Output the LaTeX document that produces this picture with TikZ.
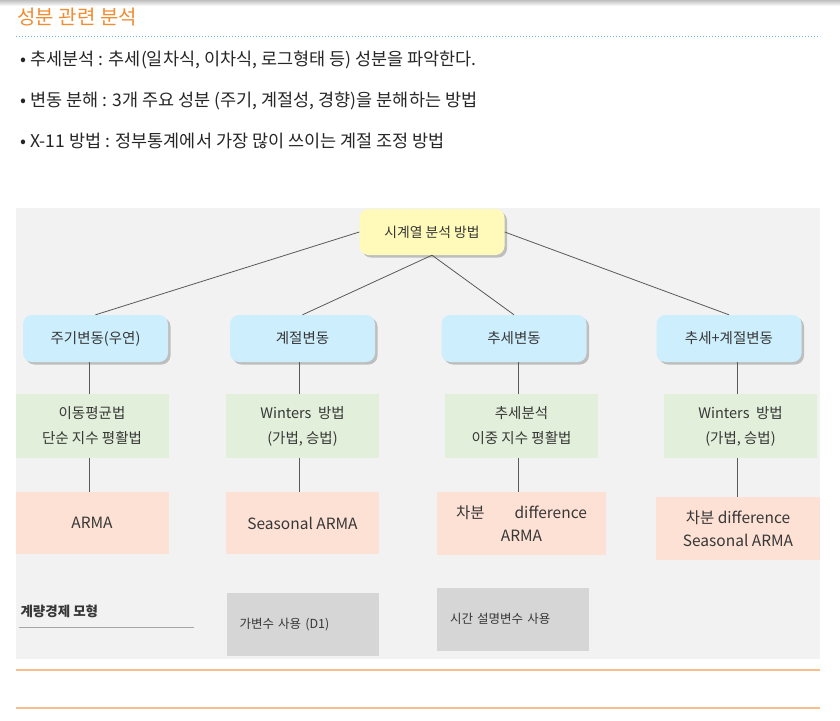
\documentclass[tikz,border=0pt]{standalone}
\usepackage{fontspec}
\setmainfont{Noto Sans CJK KR}
\usetikzlibrary{shadows}

\definecolor{titleorange}{RGB}{240,140,50}
\definecolor{dotblue}{RGB}{110,175,220}
\definecolor{rootyellow}{RGB}{255,250,185}
\definecolor{catblue}{RGB}{205,238,252}
\definecolor{methgreen}{RGB}{226,239,218}
\definecolor{modelpink}{RGB}{253,225,213}
\definecolor{dummygray}{RGB}{214,214,214}
\definecolor{panelgray}{RGB}{242,242,242}
\definecolor{ruleorange}{RGB}{250,190,140}
\definecolor{textgray}{RGB}{55,55,55}

\tikzset{
    roundbox/.style={rounded corners=9pt, text=textgray, align=center,
        drop shadow={shadow xshift=2.5pt, shadow yshift=-2.5pt, opacity=0.45, fill=gray}},
    rootbox/.style={roundbox, fill=rootyellow, minimum width=145pt, minimum height=46pt,
        font=\fontsize{13.8}{16}\selectfont},
    catbox/.style={roundbox, fill=catblue, minimum width=145pt, minimum height=47pt,
        font=\fontsize{14.5}{17}\selectfont},
    methbox/.style={fill=methgreen, text=textgray, align=center, minimum width=153pt,
        minimum height=64pt, font=\fontsize{14.5}{25}\selectfont},
    modelbox/.style={fill=modelpink, text=textgray, align=center, minimum width=153pt,
        minimum height=62pt, font=\fontsize{15.5}{23.5}\selectfont},
    dummybox/.style={fill=dummygray, text=textgray, align=left, inner xsep=13pt,
        text width=126pt, minimum height=63pt, font=\fontsize{12.5}{15}\selectfont},
    link/.style={draw=black!65, line width=0.8pt},
    bullet/.style={anchor=west, text=black!85, font=\fontsize{17.5}{20}\selectfont}
}

\begin{document}
\begin{tikzpicture}[x=1pt, y=-1pt]
    \useasboundingbox (0,0) rectangle (840,720);
    \shade[top color=black!25, bottom color=white] (0,0) rectangle (840,6);

    % heading
    \node[anchor=west, text=titleorange, font=\fontsize{20}{24}\selectfont] (title) at (14,17) {성분 관련 분석};
    \draw[dotblue, dotted, line width=1pt] (16,36) -- (820,36);
    \node[bullet] (b1) at (17,60) {• 추세분석 : 추세(일차식, 이차식, 로그형태 등) 성분을 파악한다.};
    \node[bullet] (b2) at (17,101) {• 변동 분해 : 3개 주요 성분 (주기, 계절성, 경향)을 분해하는 방법};
    \node[bullet] (b3) at (17,141) {• X-11 방법 : 정부통계에서 가장 많이 쓰이는 계절 조정 방법};

    % panel
    \fill[panelgray] (16,208) rectangle (820,659);

    % tree
    \node[rootbox] (root) at (432,232) {시계열 분석 방법};

    \node[catbox] (cyc)    at (95.5,338.5) {주기변동(우연)};
    \node[catbox] (seas)   at (302.5,338.5) {계절변동};
    \node[catbox] (trend)  at (514,338.5) {추세변동};
    \node[catbox] (tseas)  at (729,338.5) {추세+계절변동};

    \node[methbox] (ma)     at (92,426) {이동평균법\\단순 지수 평활법};
    \node[methbox] (wint)   at (302.5,426) {Winters\ \ 방법\\(가법, 승법)};
    \node[methbox] (dexp)   at (521.5,426) {추세분석\\이중 지수 평활법};
    \node[methbox] (wintb)  at (740.5,426) {Winters\ \ 방법\\(가법, 승법)};

    \node[modelbox] (arma)   at (92,523) {ARMA};
    \node[modelbox] (sarma)  at (302.5,523) {Seasonal ARMA};
    \node[modelbox, minimum width=169pt, minimum height=63pt] (darma) at (521.5,523.5) {차분\hspace{30pt}difference\\ARMA};
    \node[modelbox, minimum width=164pt, minimum height=63pt] (dsarma) at (738,528.5) {차분 difference\\Seasonal ARMA};

    \node[dummybox] (dummy)   at (302.5,624.5) {가변수 사용 (D1)};
    \node[dummybox] (timevar) at (513,619) {시간 설명변수 사용};

    \node[anchor=west, text=textgray, font=\fontsize{13.5}{16}\selectfont\bfseries] (econ) at (17,611) {계량경제 모형};
    \draw[black!35, line width=1pt] (19,627) -- (194,627);

    % connectors
    \draw[link] (root.west) -- (cyc.north);
    \draw[link] (root.south) -- (seas.north);
    \draw[link] (root.south) -- (trend.north);
    \draw[link] (root.east) -- (tseas.north);

    \draw[link] ([xshift=-3pt]ma.north |- cyc.south) -- ([xshift=-3pt]ma.north);
    \draw[link] ([xshift=-3pt]wint.north |- seas.south) -- ([xshift=-3pt]wint.north);
    \draw[link] ([xshift=-3pt]dexp.north |- trend.south) -- ([xshift=-3pt]dexp.north);
    \draw[link] ([xshift=-3pt]wintb.north |- tseas.south) -- ([xshift=-3pt]wintb.north);

    \draw[link] ([xshift=-3pt]ma.south) -- ([xshift=-3pt]ma.south |- arma.north);
    \draw[link] ([xshift=-3pt]wint.south) -- ([xshift=-3pt]wint.south |- sarma.north);
    \draw[link] ([xshift=-3pt]dexp.south) -- ([xshift=-3pt]dexp.south |- darma.north);
    \draw[link] ([xshift=-3pt]wintb.south) -- ([xshift=-3pt]wintb.south |- dsarma.north);

    % rules below
    \draw[ruleorange, line width=1.5pt] (16,670) -- (820,670);
    \draw[ruleorange, line width=1.5pt] (16,708) -- (820,708);
\end{tikzpicture}
\end{document}
